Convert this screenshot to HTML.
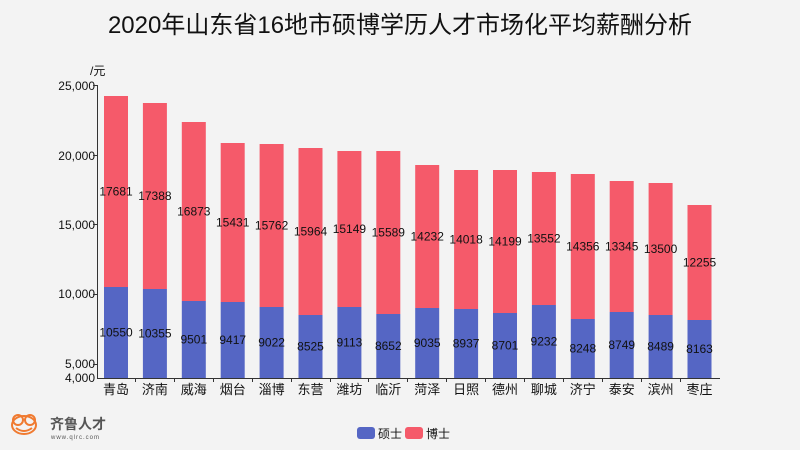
<!DOCTYPE html><html><head><meta charset="utf-8"><style>
body{margin:0;background:#f3f3f3;}
svg{display:block;font-family:"Liberation Sans","Noto Sans CJK SC",sans-serif;}
</style></head><body>
<svg width="800" height="450" viewBox="0 0 800 450">
<rect width="800" height="450" fill="#f3f3f3"/>
<text x="400" y="33" font-size="24" text-anchor="middle" fill="#111">2020年山东省16地市硕博学历人才市场化平均薪酬分析</text>
<text x="90" y="75" font-size="12" fill="#111">/元</text>
<g font-size="12" fill="#111" text-anchor="end">
<text x="95" y="90">25,000</text><text x="95" y="160">20,000</text><text x="95" y="229">15,000</text><text x="95" y="298">10,000</text><text x="95" y="368">5,000</text><text x="95" y="382">4,000</text>
</g>
<g stroke="#333" stroke-width="1">
<line x1="97.5" y1="85" x2="97.5" y2="378"/><line x1="97" y1="378.5" x2="720" y2="378.5"/>
<line x1="93" y1="85.5" x2="97" y2="85.5"/><line x1="93" y1="155.5" x2="97" y2="155.5"/><line x1="93" y1="224.5" x2="97" y2="224.5"/><line x1="93" y1="294.5" x2="97" y2="294.5"/><line x1="93" y1="364.5" x2="97" y2="364.5"/>
</g>
<g fill="#f55a6a">
<rect x="104" y="96" width="24" height="191"/>
<rect x="142.9" y="103" width="24" height="186"/>
<rect x="181.8" y="122" width="24" height="179"/>
<rect x="220.7" y="143" width="24" height="159"/>
<rect x="259.6" y="144" width="24" height="163"/>
<rect x="298.5" y="148" width="24" height="167"/>
<rect x="337.4" y="151" width="24" height="156"/>
<rect x="376.3" y="151" width="24" height="163"/>
<rect x="415.2" y="165" width="24" height="143"/>
<rect x="454.1" y="170" width="24" height="139"/>
<rect x="493" y="170" width="24" height="143"/>
<rect x="531.9" y="172" width="24" height="133"/>
<rect x="570.8" y="174" width="24" height="145"/>
<rect x="609.7" y="181" width="24" height="131"/>
<rect x="648.6" y="183" width="24" height="132"/>
<rect x="687.5" y="205" width="24" height="115"/>
</g>
<g fill="#5566c4">
<rect x="104" y="287" width="24" height="91"/>
<rect x="142.9" y="289" width="24" height="89"/>
<rect x="181.8" y="301" width="24" height="77"/>
<rect x="220.7" y="302" width="24" height="76"/>
<rect x="259.6" y="307" width="24" height="71"/>
<rect x="298.5" y="315" width="24" height="63"/>
<rect x="337.4" y="307" width="24" height="71"/>
<rect x="376.3" y="314" width="24" height="64"/>
<rect x="415.2" y="308" width="24" height="70"/>
<rect x="454.1" y="309" width="24" height="69"/>
<rect x="493" y="313" width="24" height="65"/>
<rect x="531.9" y="305" width="24" height="73"/>
<rect x="570.8" y="319" width="24" height="59"/>
<rect x="609.7" y="312" width="24" height="66"/>
<rect x="648.6" y="315" width="24" height="63"/>
<rect x="687.5" y="320" width="24" height="58"/>
</g>
<g font-size="12" fill="#111" text-anchor="middle">
<text x="116" y="195.5">17681</text><text x="116" y="336.5">10550</text>
<text x="154.9" y="200">17388</text><text x="154.9" y="337.5">10355</text>
<text x="193.8" y="215.5">16873</text><text x="193.8" y="343.5">9501</text>
<text x="232.7" y="226.5">15431</text><text x="232.7" y="344">9417</text>
<text x="271.6" y="229.5">15762</text><text x="271.6" y="346.5">9022</text>
<text x="310.5" y="235.5">15964</text><text x="310.5" y="350.5">8525</text>
<text x="349.4" y="233">15149</text><text x="349.4" y="346.5">9113</text>
<text x="388.3" y="236.5">15589</text><text x="388.3" y="350">8652</text>
<text x="427.2" y="240.5">14232</text><text x="427.2" y="347">9035</text>
<text x="466.1" y="243.5">14018</text><text x="466.1" y="347.5">8937</text>
<text x="505" y="245.5">14199</text><text x="505" y="349.5">8701</text>
<text x="543.9" y="242.5">13552</text><text x="543.9" y="345.5">9232</text>
<text x="582.8" y="250.5">14356</text><text x="582.8" y="352.5">8248</text>
<text x="621.7" y="250.5">13345</text><text x="621.7" y="349">8749</text>
<text x="660.6" y="253">13500</text><text x="660.6" y="350.5">8489</text>
<text x="699.5" y="266.5">12255</text><text x="699.5" y="353">8163</text>
</g>
<g font-size="13" fill="#111" text-anchor="middle">
<text x="116" y="394">青岛</text><text x="154.9" y="394">济南</text><text x="193.8" y="394">威海</text><text x="232.7" y="394">烟台</text>
<text x="271.6" y="394">淄博</text><text x="310.5" y="394">东营</text><text x="349.4" y="394">潍坊</text><text x="388.3" y="394">临沂</text>
<text x="427.2" y="394">菏泽</text><text x="466.1" y="394">日照</text><text x="505" y="394">德州</text><text x="543.9" y="394">聊城</text>
<text x="582.8" y="394">济宁</text><text x="621.7" y="394">泰安</text><text x="660.6" y="394">滨州</text><text x="699.5" y="394">枣庄</text>
</g>
<g stroke="#333"><line x1="135.5" y1="378" x2="135.5" y2="382"/><line x1="174.5" y1="378" x2="174.5" y2="382"/><line x1="213.5" y1="378" x2="213.5" y2="382"/><line x1="252.5" y1="378" x2="252.5" y2="382"/><line x1="291.5" y1="378" x2="291.5" y2="382"/><line x1="330.5" y1="378" x2="330.5" y2="382"/><line x1="368.5" y1="378" x2="368.5" y2="382"/><line x1="407.5" y1="378" x2="407.5" y2="382"/><line x1="446.5" y1="378" x2="446.5" y2="382"/><line x1="485.5" y1="378" x2="485.5" y2="382"/><line x1="524.5" y1="378" x2="524.5" y2="382"/><line x1="563.5" y1="378" x2="563.5" y2="382"/><line x1="602.5" y1="378" x2="602.5" y2="382"/><line x1="641.5" y1="378" x2="641.5" y2="382"/><line x1="680.5" y1="378" x2="680.5" y2="382"/></g>
<rect x="357" y="427" width="18" height="12" rx="3" fill="#5566c4"/><text x="378" y="438" font-size="12" fill="#111">硕士</text>
<rect x="405" y="427" width="18" height="12" rx="3" fill="#f55a6a"/><text x="426" y="438" font-size="12" fill="#111">博士</text>
<g fill="none" stroke="#f07a30" stroke-width="2"><ellipse cx="24" cy="425" rx="12" ry="9"/><circle cx="18" cy="420" r="5"/><circle cx="30" cy="420" r="5"/><path d="M16 428 Q24 434 32 428"/></g>
<text x="50" y="429" font-size="14" font-weight="bold" fill="#555">齐鲁人才</text>
<text x="51" y="439" font-size="6" fill="#555" letter-spacing="1">www.qlrc.com</text>
</svg></body></html>
